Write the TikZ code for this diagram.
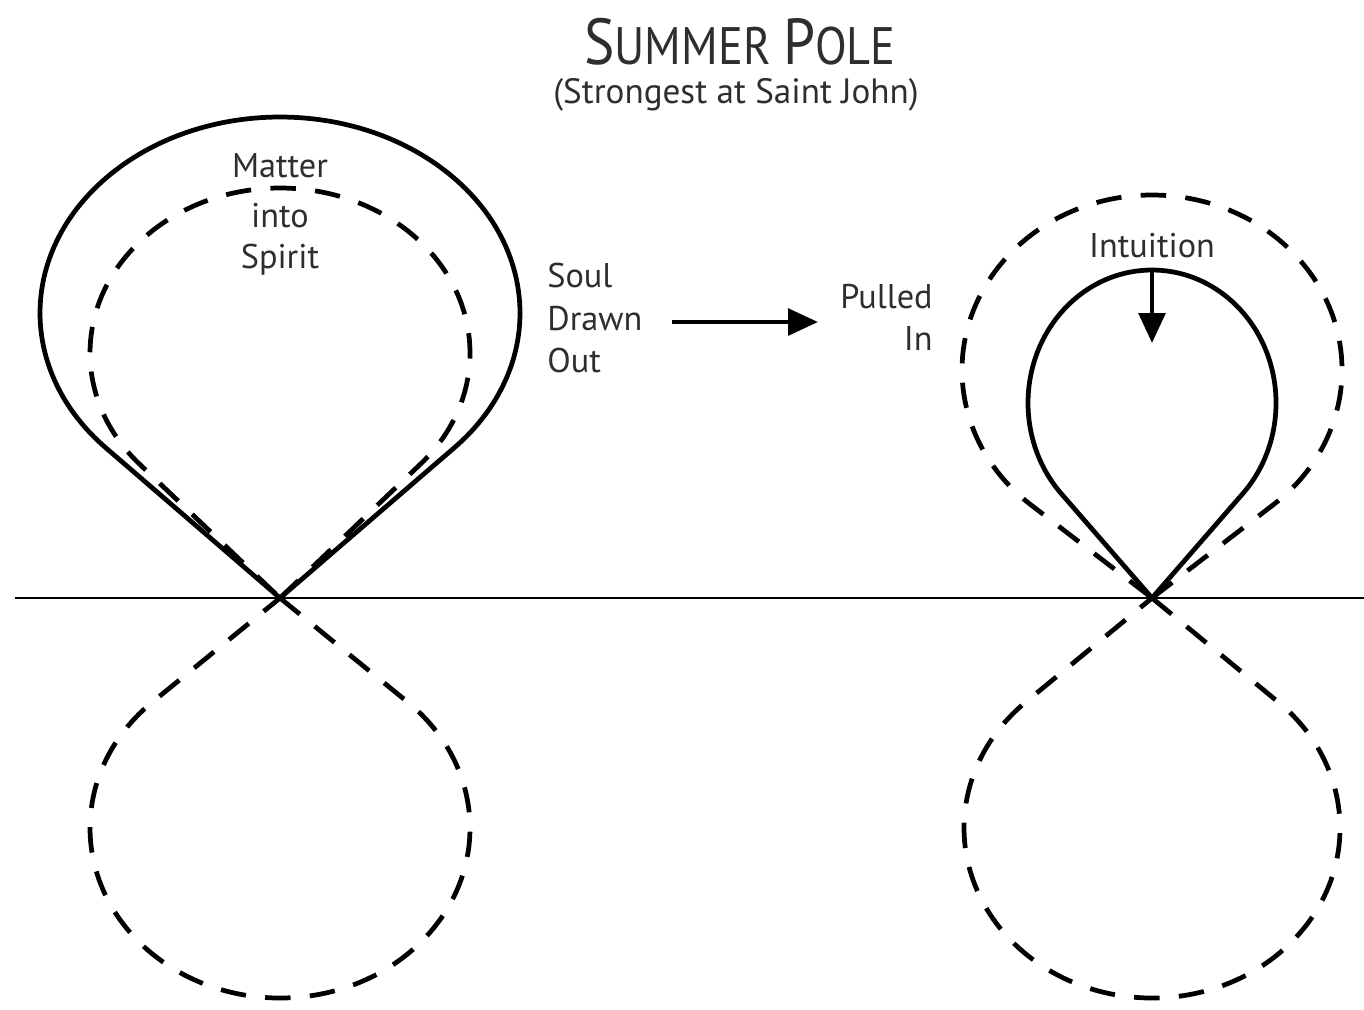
\documentclass[tikz,border=0pt]{standalone}
\usepackage{fontspec}
\setmainfont{PT Sans}
\newfontfamily\titlefont[FakeStretch=0.88]{PT Sans}
\usetikzlibrary{arrows.meta,calc}

\tikzset{
  lbl/.style={font=\fontsize{19.5}{23}\selectfont, inner sep=0pt, text=black!82},
  lobe/.style={line width=2.7pt, line join=round},
  dashlobe/.style={lobe, dash pattern=on 14.5pt off 11pt},
  pointer/.style={line width=2.6pt, -{Triangle[length=17pt, width=15pt]}},
}
\newcommand\titlebig{\titlefont\fontsize{37}{40}\selectfont}
\newcommand\titlesmall{\titlefont\fontsize{30}{32}\selectfont}

% lobe: style, apex, offset of centre from apex (px, minus = up), x radius, y radius
\newcommand\drawlobe[5]{%
  \pgfmathsetmacro\lobet{-sign(#3)*asin(#5/abs(#3))}%
  \pgfmathsetmacro\lobeend{sign(#3)*180-\lobet}%
  \draw[#1] (#2) -- ($(#2)+(0,#3)+(\lobet:#4 and #5)$)
    arc[start angle=\lobet, end angle=\lobeend, x radius=#4, y radius=#5] -- cycle;
}

\begin{document}
\begin{tikzpicture}[x=0.02cm, y=-0.02cm]
  \useasboundingbox (0,0) rectangle (1364,1009);
  % title
  \node[lbl, anchor=base] (title) at (740,64)
    {\titlebig S\titlesmall UMMER \titlebig P\titlesmall OLE};
  \node[lbl, anchor=base, font=\fontsize{20}{24}\selectfont] (subtitle) at (736,103)
    {(Strongest at Saint John)};
  % axis and the two points where the lobes meet
  \coordinate (axisL) at (15,598);
  \coordinate (axisR) at (1364,598);
  \coordinate (apexL) at (280,598);
  \coordinate (apexR) at (1152,598);
  \draw[line width=1.1pt] (axisL) -- (axisR);
  % left figure
  \drawlobe{dashlobe}{apexL}{-245}{190}{165}
  \drawlobe{dashlobe}{apexL}{230}{190}{170}
  \drawlobe{lobe}{apexL}{-285}{240}{196}
  % right figure
  \drawlobe{dashlobe}{apexR}{-228}{190}{175}
  \drawlobe{dashlobe}{apexR}{230}{188}{170}
  \drawlobe{lobe}{apexR}{-195}{124}{133}
  % labels
  \node[lbl, anchor=base] (matter) at (280,177) {Matter};
  \node[lbl, anchor=base] (into)   at (280,227) {into};
  \node[lbl, anchor=base] (spirit) at (280,268) {Spirit};
  \node[lbl, anchor=base west] (soul)  at (547,287) {Soul};
  \node[lbl, anchor=base west] (drawn) at (547,330) {Drawn};
  \node[lbl, anchor=base west] (out)   at (547,372) {Out};
  \node[lbl, anchor=base east] (pulled) at (933,308) {Pulled};
  \node[lbl, anchor=base east] (in)     at (933,350) {In};
  \node[lbl, anchor=base] (intuition) at (1152,257) {Intuition};
  % arrows
  \coordinate (drawS) at (672,322);
  \coordinate (drawE) at (818,322);
  \draw[pointer] (drawS) -- (drawE);
  \coordinate (intuS) at (1152,270);
  \coordinate (intuE) at (1152,343);
  \draw[pointer] (intuS) -- (intuE);
\end{tikzpicture}
\end{document}
